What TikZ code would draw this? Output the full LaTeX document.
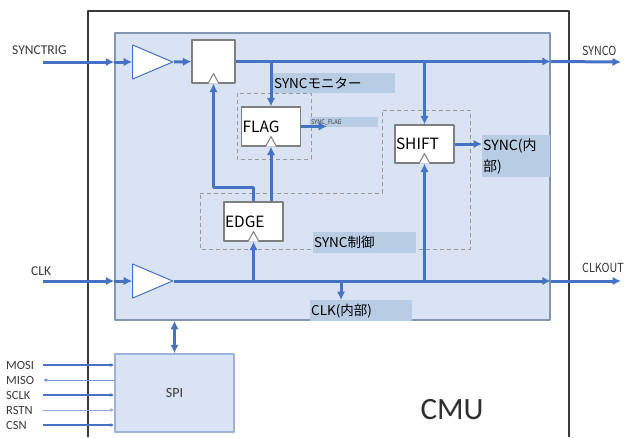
\documentclass[tikz,border=0pt]{standalone}
\usepackage{fontspec}
\setmainfont{Carlito}
\newfontfamily\jp{Noto Sans CJK JP}
\newfontfamily\jpn[FakeStretch=0.86]{Noto Sans CJK JP}
\usepackage{tikz}
\usetikzlibrary{arrows.meta,shapes.geometric}
\definecolor{wire}{HTML}{4472C4}
\definecolor{wirelt}{HTML}{8FA8DA}
\definecolor{panelbg}{HTML}{DAE3F3}
\definecolor{paneledge}{HTML}{8497B0}
\definecolor{spiedge}{HTML}{9DB2DC}
\definecolor{tagbg}{HTML}{B8CCE4}
\definecolor{ink}{HTML}{3A3A3A}
\definecolor{boxedge}{HTML}{7F7F7F}
\tikzset{fig/.style={line join=round,>={Latex[length=8.5pt,width=8.5pt]}},
  sig/.style={wire,line width=3pt},
  spisig/.style={wire,line width=1.2pt},
  cmuframe/.style={draw=ink,line width=1.2pt},
  corebox/.style={draw=paneledge,fill=panelbg,line width=1.5pt},
  grp/.style={draw=boxedge!80,line width=0.9pt,dash pattern=on 4pt off 3pt},
  buf/.style={isosceles triangle,isosceles triangle stretches,draw=wire,fill=white,line width=1pt,
    inner sep=0pt,minimum width=34pt,minimum height=40pt},
  ffbox/.style={draw=boxedge,fill=white,line width=1.2pt,inner xsep=1pt,inner ysep=0pt,
    text width=57pt,minimum height=39pt,align=left,font=\jp\fontsize{15.5}{17}\selectfont},
  ckm/.style={draw=boxedge,fill=white,line width=1pt},
  tag/.style={fill=tagbg,inner xsep=1pt,inner ysep=0pt,align=left,anchor=north west,
    font=\jp\fontsize{13.5}{20}\selectfont},
  extl/.style={text=ink,inner sep=0pt,anchor=west,font=\fontsize{13.5}{15}\selectfont},
  outl/.style={text=ink!90!black,inner sep=0pt,anchor=west,font=\jpn\fontsize{12.5}{15}\selectfont},
  spil/.style={text=ink,inner sep=0pt,anchor=west,font=\fontsize{12.5}{14}\selectfont}}
\newcommand{\clkmark}[1]{\draw[ckm]([xshift=-5.5pt]#1.south)--++(5.5,-10)--++(5.5,10);}

\begin{document}
\begin{tikzpicture}[fig,x=1pt,y=-1pt]
  \useasboundingbox(0,0)rectangle(629,437);
  % CMU outline, open at the bottom
  \draw[cmuframe](88,437)--(88,11)--(569,11)--(569,437);
  \node[font=\fontsize{31}{34}\selectfont,text=ink!80!black](cmu)at(452,410){CMU};
  \node[corebox,minimum width=435pt,minimum height=287pt](core)at(332.5,176.5){};
  \node[corebox,draw=spiedge,minimum width=119pt,minimum height=78pt,
    font=\fontsize{14}{16}\selectfont,text=ink](spi)at(174.5,393){SPI};
  % dashed groups: monitor and sync control
  \draw[grp](237,93)rectangle(311,159);
  \draw[grp](200,193)--(382,193)--(382,110)--(470,110)--(470,249)--(200,249)--cycle;
  % labels on shaded tags
  \node[tag,text width=120pt,minimum height=20pt](montag)at(273,73){SYNCモニター};
  \node[tag,text width=66pt,minimum height=10pt,text=ink,font=\jpn\fontsize{6.5}{7}\selectfont](flagtag)at(310,117){SYNC\_FLAG};
  \node[tag,text width=66pt,minimum height=42pt,font=\jp\fontsize{14}{21}\selectfont](synctag)at(482,135){SYNC(内\\部)};
  \node[tag,text width=101pt,minimum height=21pt](ctltag)at(313,232){SYNC制御};
  \node[tag,text width=100pt,minimum height=21pt](clktag)at(310,300){CLK(内部)};
  % buffers and flip-flops
  \node[buf,anchor=apex](bufs)at(174,62){};
  \node[buf,anchor=apex](bufc)at(174,281){};
  \node[ffbox,text width=41pt,minimum height=43pt](syncff)at(213.5,61.5){};
  \node[ffbox](flag)at(271,126.5){FLAG};
  \node[ffbox,minimum height=38pt](shift)at(424.5,144){SHIFT};
  \node[ffbox](edge)at(253.5,221.5){EDGE};
  % external pins
  \node[extl](synctrig)at(12,50){SYNCTRIG};
  \node[extl](clk)at(31,271){CLK};
  \node[outl](synco)at(582,51){SYNCO};
  \node[outl](clkout)at(582,268){CLKOUT};
  \coordinate(syncin)at(43,62);
  \coordinate(clkin)at(43,281);
  \coordinate(syncend)at(621,62);
  \coordinate(clkend)at(621,281);
  \coordinate(flagtip)at(327,126.5);
  \coordinate(edgeturn)at(253.5,187);
  \coordinate(clkdn)at(341,300);
  % SYNCTRIG path
  \draw[sig,->](syncin)--(syncin-|core.west);
  \draw[sig,->](syncin-|core.west)--(bufs.west);
  \draw[sig,->](bufs.east)--(syncff.west);
  \draw[sig,->](syncff.east)--(syncff.east-|core.east);
  \draw[sig,->](syncff.east-|core.east)--(syncend);
  \draw[sig,->](flag.north|-syncff.east)--(flag.north);
  \draw[sig,->](shift.north|-syncff.east)--(shift.north);
  \draw[sig,->](flag.east)--(flagtip);
  \draw[sig,->](shift.east)--(shift.east-|synctag.west);
  \draw[sig,->](edge.north)--(edgeturn)-|(syncff.south);
  \draw[sig,->](flag.south|-edge.north)--(flag.south);
  % CLK path
  \draw[sig,->](clkin)--(clkin-|core.west);
  \draw[sig,->](clkin-|core.west)--(bufc.west);
  \draw[sig,->](bufc.east)--(bufc.east-|core.east);
  \draw[sig,->](bufc.east-|core.east)--(clkend);
  \draw[sig,->](edge.south|-bufc.east)--(edge.south);
  \draw[sig,->](shift.south|-bufc.east)--(shift.south);
  \draw[sig,->](clkdn|-bufc.east)--(clkdn);
  \clkmark{syncff}\clkmark{flag}\clkmark{shift}\clkmark{edge}
  % register access
  \draw[sig,<->](spi.north)--(spi.north|-core.south);
  \node[spil](mosi)at(6,365){MOSI};
  \node[spil](miso)at(6,380){MISO};
  \node[spil](sclk)at(6,395){SCLK};
  \node[spil](rstn)at(6,410){RSTN};
  \node[spil](csn)at(6,425){CSN};
  \coordinate(mosiin)at(43,365);
  \coordinate(misoout)at(43,380);
  \coordinate(sclkin)at(43,395);
  \coordinate(rstnin)at(43,410);
  \coordinate(csnin)at(43,425);
  \draw[spisig,-{Latex[length=4pt,width=4pt]}](mosiin)--(mosiin-|spi.west);
  \draw[spisig,wire!75,line width=1pt,-{Latex[length=4pt,width=4pt]}](misoout-|spi.west)--(misoout);
  \draw[spisig,-{Latex[length=4pt,width=4pt]}](sclkin)--(sclkin-|spi.west);
  \draw[spisig,wirelt,line width=1pt,-{Latex[length=4pt,width=4pt]}](rstnin)--(rstnin-|spi.west);
  \draw[spisig,-{Latex[length=4pt,width=4pt]}](csnin)--(csnin-|spi.west);
\end{tikzpicture}
\end{document}
